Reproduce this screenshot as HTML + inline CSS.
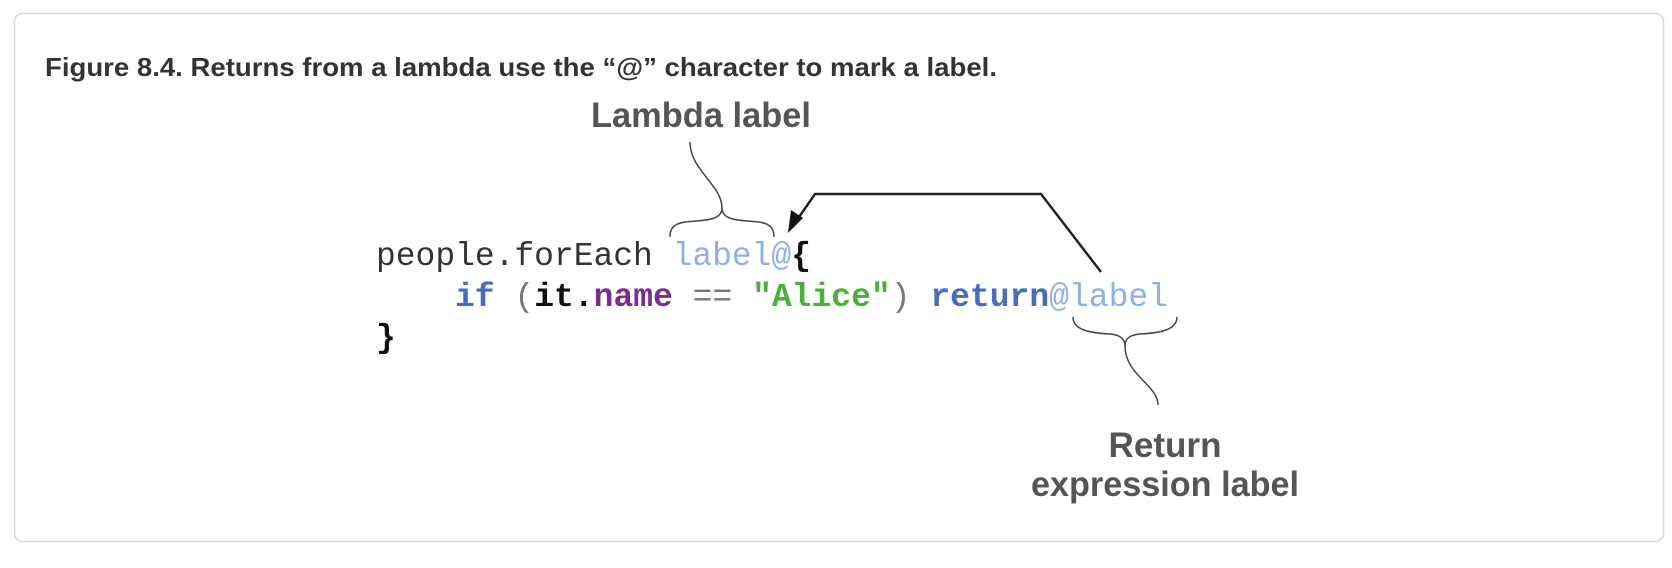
<!DOCTYPE html>
<html><head><meta charset="utf-8"><style>
html,body{margin:0;padding:0;background:#fff;width:1672px;height:568px;overflow:hidden}
</style></head><body>
<svg width="1672" height="568" viewBox="0 0 1672 568" xmlns="http://www.w3.org/2000/svg">
<rect x="14.5" y="13.5" width="1649" height="528" rx="8" fill="#fff" stroke="#d9d9d9" stroke-width="1.5"/>
<text x="45" y="76" font-family="Liberation Sans, sans-serif" font-weight="bold" font-size="26" fill="#333" textLength="952" lengthAdjust="spacingAndGlyphs">Figure 8.4. Returns from a lambda use the “@” character to mark a label.</text>
<text x="591" y="127" font-family="Liberation Sans, sans-serif" font-weight="bold" font-size="35" fill="#555" textLength="220" lengthAdjust="spacingAndGlyphs">Lambda label</text>
<text x="1165" y="457" text-anchor="middle" font-family="Liberation Sans, sans-serif" font-weight="bold" font-size="35" fill="#555" textLength="113" lengthAdjust="spacingAndGlyphs">Return</text>
<text x="1165" y="496" text-anchor="middle" font-family="Liberation Sans, sans-serif" font-weight="bold" font-size="35" fill="#555" textLength="268" lengthAdjust="spacingAndGlyphs">expression label</text>
<g fill="none" stroke="#444" stroke-width="1.5">
<path d="M690 142 C690 170 722 185 722 208 C722 222 700 220 685 222 C672 224 670 230 670 237"/>
<path d="M722 208 C722 222 744 220 759 222 C772 224 774 230 774 237"/>
<path d="M1073 317 C1073 330 1090 333 1110 334 C1122 335 1125 340 1125 346 C1125 375 1158 385 1158 405"/>
<path d="M1177 317 C1177 330 1160 333 1140 334 C1128 335 1125 340 1125 346"/>
</g>
<path d="M1101 272 L1041 194 L815 194 L797 220" fill="none" stroke="#222" stroke-width="2.5"/>
<polygon points="788,233 791,210 803,218" fill="#111"/>
<g font-family="Liberation Mono, monospace" font-size="33" xml:space="preserve">
<text x="376" y="265" textLength="435" lengthAdjust="spacingAndGlyphs"><tspan fill="#333">people.forEach </tspan><tspan fill="#8fb0e6">label@</tspan><tspan fill="#111" font-weight="bold">{</tspan></text>
<text x="455" y="306" textLength="713" lengthAdjust="spacingAndGlyphs"><tspan fill="#4a6db5" font-weight="bold">if</tspan><tspan fill="#777"> (</tspan><tspan fill="#111" font-weight="bold">it.</tspan><tspan fill="#7b2d8e" font-weight="bold">name</tspan><tspan fill="#777"> == </tspan><tspan fill="#4caf3c" font-weight="bold">"Alice"</tspan><tspan fill="#777">) </tspan><tspan fill="#4a6db5" font-weight="bold">return</tspan><tspan fill="#8fb0e6">@label</tspan></text>
<text x="376" y="347" fill="#111" font-weight="bold">}</text>
</g>
</svg>
</body></html>
